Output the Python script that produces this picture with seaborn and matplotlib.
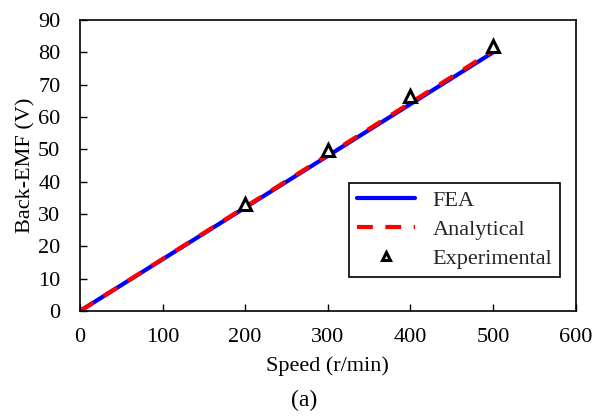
import matplotlib
matplotlib.use("Agg")
import matplotlib.pyplot as plt
import seaborn as sns
import pandas as pd

speed_line = [0, 100, 200, 300, 400, 500]
fea = [0, 16, 32, 48, 64, 80]
analytical = [0, 16.1, 32.2, 48.3, 64.4, 80.5]
speed_exp = [200, 300, 400, 500]
experimental = [33.2, 49.9, 66.5, 82.1]

sns.set_theme(style="white")
plt.rcParams['font.family'] = ['Liberation Serif', 'DejaVu Serif']

fig = plt.figure(figsize=(5.96, 4.17), dpi=100)
ax = fig.add_axes([0.134, 0.254, 0.832, 0.698])

df_line = pd.DataFrame({"speed": speed_line, "fea": fea, "ana": analytical})

sns.lineplot(data=df_line, x="speed", y="fea", ax=ax, color="#0000ff", lw=3, label="FEA")
sns.lineplot(data=df_line, x="speed", y="ana", ax=ax, color="#ff0000", lw=3,
             dashes=False, label="Analytical")
ax.lines[-1].set_linestyle((0, (3.8, 3.0)))
ax.plot(speed_exp, experimental, linestyle="none", marker="^", markersize=8,
        markerfacecolor="white", markeredgecolor="black", markeredgewidth=2.2,
        label="Experimental")

ax.set_xlim(0, 600)
ax.set_ylim(0, 90)
ax.set_xticks(range(0, 601, 100))
ax.set_yticks(range(0, 91, 10))
ax.tick_params(direction="in", length=5, width=1, colors="black", labelsize=16,
               bottom=True, left=True)
ax.tick_params(axis="x", pad=12)
ax.tick_params(axis="y", pad=14)
for s in ax.spines.values():
    s.set_color("black")
    s.set_linewidth(1.2)
ax.set_xlabel("Speed (r/min)", fontsize=16, color="black", labelpad=7)
ax.set_ylabel("Back-EMF (V)", fontsize=16, color="black", labelpad=2)

leg = ax.legend(loc="lower right", bbox_to_anchor=(0.968, 0.117), borderaxespad=0,
                fontsize=16, frameon=True, fancybox=False, framealpha=1,
                edgecolor="black", handlelength=2.6, borderpad=0.35,
                labelspacing=0.38, markerscale=0.75)
leg.get_frame().set_linewidth(1.2)

fig.text(0.51, 0.04, "(a)", ha="center", va="center", fontsize=17, color="black")

fig.savefig("out.png", dpi=100)
